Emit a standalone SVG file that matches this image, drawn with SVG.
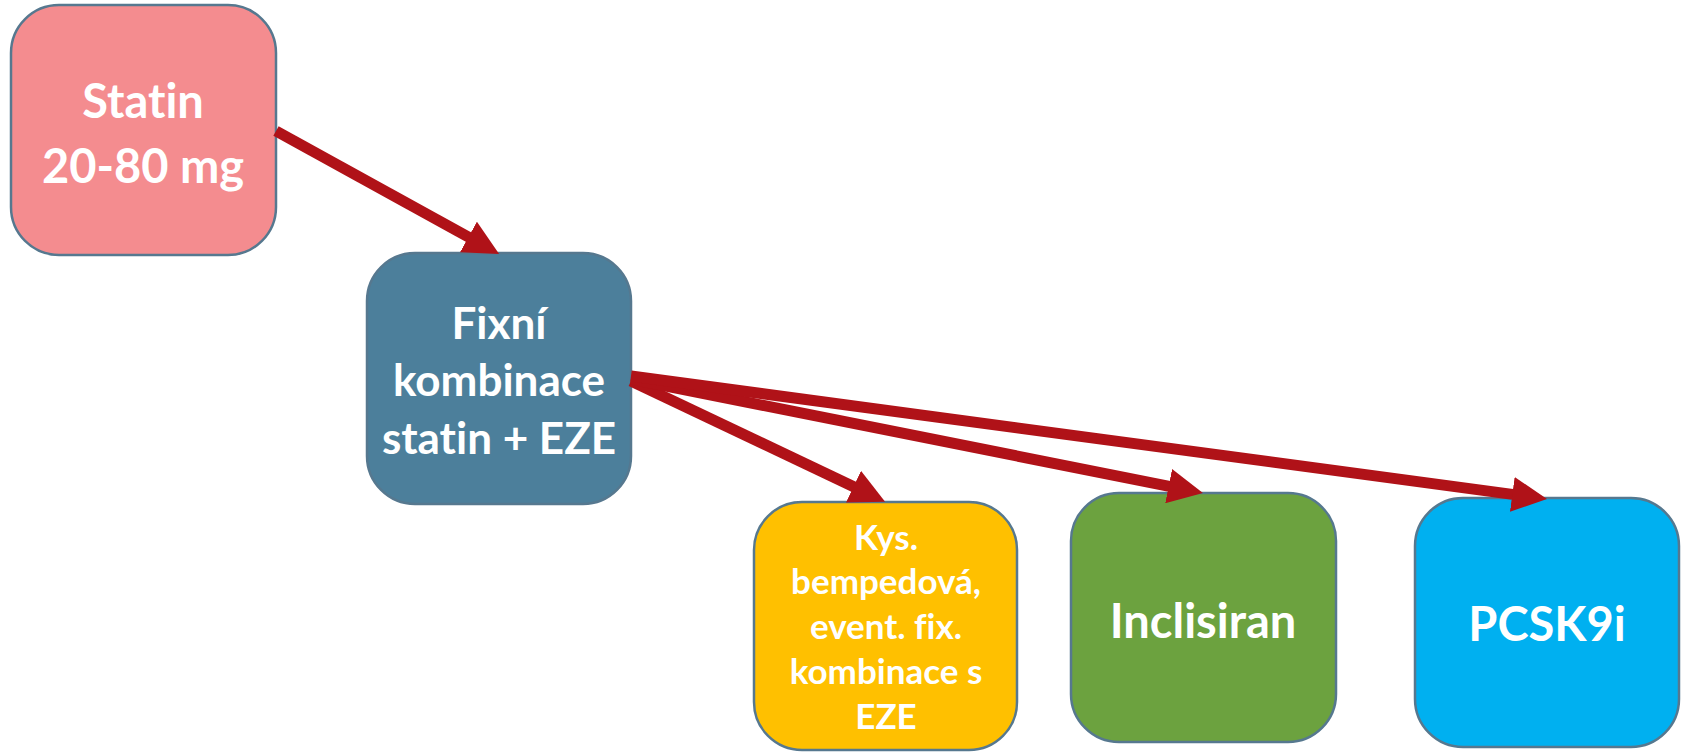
<svg xmlns="http://www.w3.org/2000/svg" width="1681" height="752" viewBox="0 0 1681 752">
<defs>
<style>
.box{stroke:#56788f;stroke-width:2.5}
.t{font-family:Lato,"Open Sans","Liberation Sans",sans-serif;font-weight:bold;fill:#ffffff;text-anchor:middle;font-variant-ligatures:none;font-feature-settings:"liga" 0}
.edge{stroke:#b01218;stroke-width:11;fill:none;marker-end:url(#ah)}
</style>
<marker id="ah" markerUnits="userSpaceOnUse" markerWidth="35" markerHeight="35" refX="2" refY="17.5" orient="auto" viewBox="0 0 35 35">
<path d="M0,0 L35,17.5 L0,35 Z" fill="#b01218"/>
</marker>
</defs>
<rect width="1681" height="752" fill="#ffffff"/>
<g id="statin">
<rect class="box" x="11" y="5" width="265" height="250" rx="48" fill="#f48c8f"/>
<text class="t" x="143" y="118" font-size="47">Statin</text>
<text class="t" x="143" y="183" font-size="47">20-80 mg</text>
</g>
<g id="fixni">
<rect class="box" x="367" y="253" width="264" height="251" rx="48" fill="#4c7f9b"/>
<text class="t" x="499" y="339" font-size="44">Fixní</text>
<text class="t" x="499" y="396" font-size="44">kombinace</text>
<text class="t" x="499" y="454" font-size="44">statin + EZE</text>
</g>
<g id="kys">
<rect class="box" x="754" y="502" width="263" height="248" rx="48" fill="#ffc000"/>
<text class="t" x="886" y="550" font-size="35">Kys.</text>
<text class="t" x="886" y="594" font-size="35">bempedová,</text>
<text class="t" x="886" y="639" font-size="35">event. fix.</text>
<text class="t" x="886" y="684" font-size="35">kombinace s</text>
<text class="t" x="886" y="729" font-size="35">EZE</text>
</g>
<g id="inclisiran">
<rect class="box" x="1071" y="493" width="265" height="249" rx="48" fill="#6ca23f"/>
<text class="t" x="1203" y="638" font-size="47">Inclisiran</text>
</g>
<g id="pcsk9i">
<rect class="box" x="1415" y="498" width="264" height="249" rx="48" fill="#00b0f0"/>
<text class="t" x="1547" y="641" font-size="47">PCSK9i</text>
</g>
<g id="connectors">
<line class="edge" x1="276" y1="131" x2="470.2" y2="238.0"/>
<line class="edge" x1="631" y1="381" x2="855.3" y2="487.5"/>
<line class="edge" x1="631" y1="379" x2="1170.6" y2="486.6"/>
<line class="edge" x1="631" y1="376" x2="1514.3" y2="494.6"/>
</g>
</svg>
